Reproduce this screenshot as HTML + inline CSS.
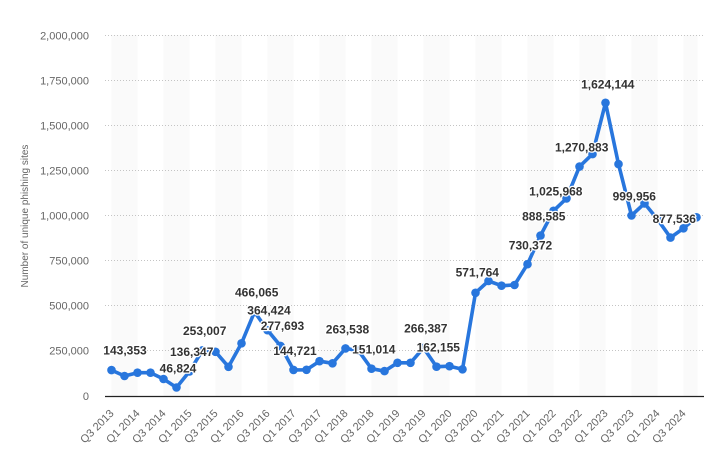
<!DOCTYPE html>
<html>
<head>
<meta charset="utf-8">
<style>
html,body{margin:0;padding:0;background:#fff;}
svg{display:block;}
text{font-family:"Liberation Sans",sans-serif;}
.yl{font-size:11px;fill:#666;text-anchor:end;}
.xl{font-size:11px;fill:#666;text-anchor:end;}
.dl{font-size:12px;font-weight:bold;fill:#333;text-anchor:middle;stroke:#fff;stroke-width:2.5px;paint-order:stroke;stroke-linejoin:round;}
</style>
</head>
<body>
<svg width="715" height="457" viewBox="0 0 715 457" xmlns="http://www.w3.org/2000/svg">
<rect width="715" height="457" fill="#fff"/>
<g fill="#fafafa">
<rect x="111.5" y="35" width="26" height="361"/>
<rect x="163.5" y="35" width="26" height="361"/>
<rect x="215.5" y="35" width="26" height="361"/>
<rect x="267.5" y="35" width="26" height="361"/>
<rect x="319.5" y="35" width="26" height="361"/>
<rect x="371.5" y="35" width="26" height="361"/>
<rect x="423.5" y="35" width="26" height="361"/>
<rect x="475.5" y="35" width="26" height="361"/>
<rect x="527.5" y="35" width="26" height="361"/>
<rect x="579.5" y="35" width="26" height="361"/>
<rect x="631.5" y="35" width="26" height="361"/>
<rect x="683.5" y="35" width="14" height="361"/>
</g>
<g stroke="#c4c4c4" stroke-width="1" stroke-dasharray="1,2">
<line x1="105" y1="35.5" x2="704" y2="35.5"/>
<line x1="105" y1="80.5" x2="704" y2="80.5"/>
<line x1="105" y1="125.5" x2="704" y2="125.5"/>
<line x1="105" y1="170.5" x2="704" y2="170.5"/>
<line x1="105" y1="215.5" x2="704" y2="215.5"/>
<line x1="105" y1="260.5" x2="704" y2="260.5"/>
<line x1="105" y1="305.5" x2="704" y2="305.5"/>
<line x1="105" y1="350.5" x2="704" y2="350.5"/>
</g>
<line x1="105" y1="396.5" x2="704" y2="396.5" stroke="#222" stroke-width="1.3"/>
<text class="yl" x="89" y="39.5">2,000,000</text>
<text class="yl" x="89" y="84.5">1,750,000</text>
<text class="yl" x="89" y="129.5">1,500,000</text>
<text class="yl" x="89" y="174.5">1,250,000</text>
<text class="yl" x="89" y="219.5">1,000,000</text>
<text class="yl" x="89" y="264.5">750,000</text>
<text class="yl" x="89" y="309.5">500,000</text>
<text class="yl" x="89" y="354.5">250,000</text>
<text class="yl" x="89" y="400">0</text>
<text x="28" y="216" transform="rotate(-90 28 216)" style="font-size:10px;fill:#666;text-anchor:middle;">Number of unique phishing sites</text>
<g>
<text class="xl" x="114.5" y="414" transform="rotate(-45 114.5 414)">Q3 2013</text>
<text class="xl" x="140.5" y="414" transform="rotate(-45 140.5 414)">Q1 2014</text>
<text class="xl" x="166.5" y="414" transform="rotate(-45 166.5 414)">Q3 2014</text>
<text class="xl" x="192.5" y="414" transform="rotate(-45 192.5 414)">Q1 2015</text>
<text class="xl" x="218.5" y="414" transform="rotate(-45 218.5 414)">Q3 2015</text>
<text class="xl" x="244.5" y="414" transform="rotate(-45 244.5 414)">Q1 2016</text>
<text class="xl" x="270.5" y="414" transform="rotate(-45 270.5 414)">Q3 2016</text>
<text class="xl" x="296.5" y="414" transform="rotate(-45 296.5 414)">Q1 2017</text>
<text class="xl" x="322.5" y="414" transform="rotate(-45 322.5 414)">Q3 2017</text>
<text class="xl" x="348.5" y="414" transform="rotate(-45 348.5 414)">Q1 2018</text>
<text class="xl" x="374.5" y="414" transform="rotate(-45 374.5 414)">Q3 2018</text>
<text class="xl" x="400.5" y="414" transform="rotate(-45 400.5 414)">Q1 2019</text>
<text class="xl" x="426.5" y="414" transform="rotate(-45 426.5 414)">Q3 2019</text>
<text class="xl" x="452.5" y="414" transform="rotate(-45 452.5 414)">Q1 2020</text>
<text class="xl" x="478.5" y="414" transform="rotate(-45 478.5 414)">Q3 2020</text>
<text class="xl" x="504.5" y="414" transform="rotate(-45 504.5 414)">Q1 2021</text>
<text class="xl" x="530.5" y="414" transform="rotate(-45 530.5 414)">Q3 2021</text>
<text class="xl" x="556.5" y="414" transform="rotate(-45 556.5 414)">Q1 2022</text>
<text class="xl" x="582.5" y="414" transform="rotate(-45 582.5 414)">Q3 2022</text>
<text class="xl" x="608.5" y="414" transform="rotate(-45 608.5 414)">Q1 2023</text>
<text class="xl" x="634.5" y="414" transform="rotate(-45 634.5 414)">Q3 2023</text>
<text class="xl" x="660.5" y="414" transform="rotate(-45 660.5 414)">Q1 2024</text>
<text class="xl" x="686.5" y="414" transform="rotate(-45 686.5 414)">Q3 2024</text>
</g>
<polyline fill="none" stroke="#2876dd" stroke-width="3.6" stroke-linejoin="round" stroke-linecap="round" points="111.5,370.1 124.5,376.0 137.5,372.7 150.5,372.7 163.5,379.0 176.5,387.5 189.5,371.4 202.5,350.3 215.5,351.8 228.5,366.8 241.5,343.3 254.5,311.9 267.5,330.2 280.5,345.9 293.5,369.9 306.5,369.8 319.5,361.2 332.5,363.3 345.5,348.4 358.5,350.7 371.5,368.7 384.5,371.1 397.5,362.8 410.5,362.8 423.5,347.9 436.5,366.7 449.5,366.2 462.5,369.3 475.5,292.8 488.5,281.0 501.5,285.7 514.5,285.0 527.5,264.2 540.5,235.6 553.5,210.8 566.5,198.4 579.5,166.6 592.5,154.1 605.5,102.8 618.5,164.1 631.5,215.5 644.5,203.4 657.5,219.3 670.5,237.6 683.5,228.3 696.5,217.3"/>
<g fill="#2876dd">
<circle cx="111.5" cy="370.1" r="4.3"/><circle cx="124.5" cy="376.0" r="4.3"/><circle cx="137.5" cy="372.7" r="4.3"/><circle cx="150.5" cy="372.7" r="4.3"/><circle cx="163.5" cy="379.0" r="4.3"/><circle cx="176.5" cy="387.5" r="4.3"/><circle cx="189.5" cy="371.4" r="4.3"/><circle cx="202.5" cy="350.3" r="4.3"/><circle cx="215.5" cy="351.8" r="4.3"/><circle cx="228.5" cy="366.8" r="4.3"/><circle cx="241.5" cy="343.3" r="4.3"/><circle cx="254.5" cy="311.9" r="4.3"/><circle cx="267.5" cy="330.2" r="4.3"/><circle cx="280.5" cy="345.9" r="4.3"/><circle cx="293.5" cy="369.9" r="4.3"/><circle cx="306.5" cy="369.8" r="4.3"/><circle cx="319.5" cy="361.2" r="4.3"/><circle cx="332.5" cy="363.3" r="4.3"/><circle cx="345.5" cy="348.4" r="4.3"/><circle cx="358.5" cy="350.7" r="4.3"/><circle cx="371.5" cy="368.7" r="4.3"/><circle cx="384.5" cy="371.1" r="4.3"/><circle cx="397.5" cy="362.8" r="4.3"/><circle cx="410.5" cy="362.8" r="4.3"/><circle cx="423.5" cy="347.9" r="4.3"/><circle cx="436.5" cy="366.7" r="4.3"/><circle cx="449.5" cy="366.2" r="4.3"/><circle cx="462.5" cy="369.3" r="4.3"/><circle cx="475.5" cy="292.8" r="4.3"/><circle cx="488.5" cy="281.0" r="4.3"/><circle cx="501.5" cy="285.7" r="4.3"/><circle cx="514.5" cy="285.0" r="4.3"/><circle cx="527.5" cy="264.2" r="4.3"/><circle cx="540.5" cy="235.6" r="4.3"/><circle cx="553.5" cy="210.8" r="4.3"/><circle cx="566.5" cy="198.4" r="4.3"/><circle cx="579.5" cy="166.6" r="4.3"/><circle cx="592.5" cy="154.1" r="4.3"/><circle cx="605.5" cy="102.8" r="4.3"/><circle cx="618.5" cy="164.1" r="4.3"/><circle cx="631.5" cy="215.5" r="4.3"/><circle cx="644.5" cy="203.4" r="4.3"/><circle cx="657.5" cy="219.3" r="4.3"/><circle cx="670.5" cy="237.6" r="4.3"/><circle cx="683.5" cy="228.3" r="4.3"/><circle cx="696.5" cy="217.3" r="4.3"/>
</g>
<text class="dl" x="125" y="354.3">143,353</text>
<text class="dl" x="178" y="372.6">46,824</text>
<text class="dl" x="191.7" y="356">136,347</text>
<text class="dl" x="204.7" y="335">253,007</text>
<text class="dl" x="256.7" y="296.6">466,065</text>
<text class="dl" x="269" y="314.3">364,424</text>
<text class="dl" x="282.5" y="330">277,693</text>
<text class="dl" x="295" y="355">144,721</text>
<text class="dl" x="347.5" y="333.6">263,538</text>
<text class="dl" x="373.8" y="353.3">151,014</text>
<text class="dl" x="425.8" y="332.6">266,387</text>
<text class="dl" x="438.3" y="351.6">162,155</text>
<text class="dl" x="477.3" y="276.6">571,764</text>
<text class="dl" x="530.5" y="249.3">730,372</text>
<text class="dl" x="543.8" y="220.3">888,585</text>
<text class="dl" x="555.8" y="195.3">1,025,968</text>
<text class="dl" x="581.7" y="151.6">1,270,883</text>
<text class="dl" x="607.8" y="88.6">1,624,144</text>
<text class="dl" x="634.3" y="200.3">999,956</text>
<text class="dl" x="674.3" y="223">877,536</text>
</svg>
</body>
</html>
